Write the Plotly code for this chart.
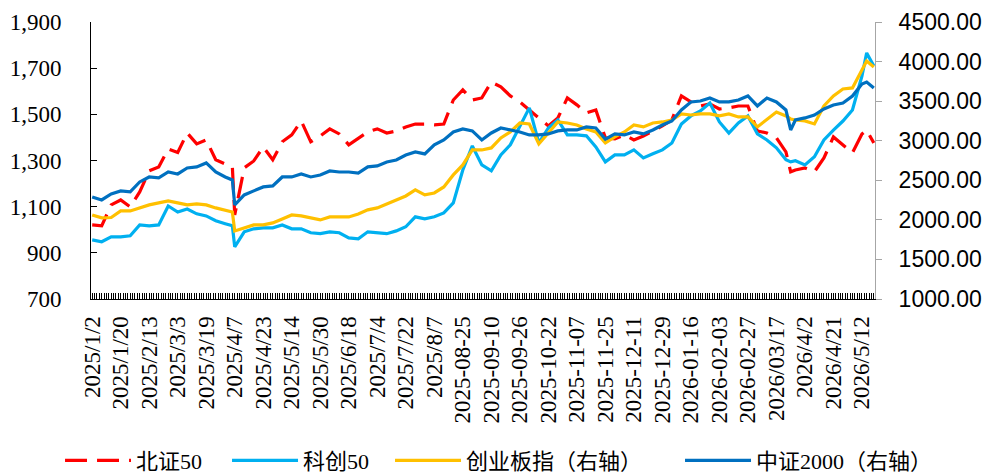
import plotly.graph_objects as go

# ---------------- data ----------------
tick_labels = [
    "2025/1/2", "2025/1/20", "2025/2/13", "2025/3/3", "2025/3/19", "2025/4/7",
    "2025/4/23", "2025/5/14", "2025/5/30", "2025/6/18", "2025/7/4", "2025/7/22",
    "2025/8/7", "2025-08-25", "2025-09-10", "2025-09-26", "2025-10-22", "2025-11-07",
    "2025-11-25", "2025-12-11", "2025-12-29", "2026-01-16", "2026-02-03", "2026-02-27",
    "2026/03/17", "2026/4/2", "2026/4/21", "2026/5/12",
]
label_every = 12          # trading days between labelled ticks
n_days = 330              # trading days on the category axis

# trading-day index of each sampled observation
day_idx = (list(range(0, 57, 4)) + [59] + list(range(60, 293, 4)) + [294]
           + list(range(296, 325, 4)) + [326, 329])

bz50 = [1021, 1017, 1108, 1129, 1099, 1164, 1255, 1272, 1350, 1335, 1419, 1372, 1389, 1303, 1285,
        1272,
        1064, 1268, 1298, 1359, 1303, 1381, 1411, 1471, 1381, 1406, 1437, 1415, 1368, 1398, 1424,
        1437, 1419, 1428, 1445, 1458, 1458, 1454, 1458, 1562, 1606, 1562, 1571, 1640, 1619, 1580,
        1554, 1519, 1484, 1450, 1484, 1571, 1541, 1506, 1519, 1398, 1394, 1411, 1389, 1406, 1428,
        1450, 1476, 1580, 1554, 1536, 1545, 1523, 1528, 1536, 1536, 1428, 1419, 1398, 1337,
        1251,
        1259, 1268, 1251, 1311, 1402, 1368, 1333, 1415,
        1432, 1376]

kc50 = [956, 948, 969, 969, 974, 1021, 1017, 1021, 1103, 1077, 1090, 1069, 1060, 1039, 1026,
        1017,
        926, 991, 1004, 1008, 1008, 1021, 1004, 1004, 987, 983, 991, 987, 965, 961, 991,
        987, 983, 995, 1013, 1056, 1047, 1056, 1073, 1116, 1259, 1363, 1281, 1255, 1324, 1368,
        1445, 1528, 1376, 1441, 1476, 1411, 1411, 1407, 1359, 1294, 1324, 1324, 1346, 1311, 1329,
        1346, 1376, 1458, 1493, 1515, 1549, 1467, 1419, 1463, 1493, 1415, 1389, 1355, 1303,
        1294,
        1299, 1281, 1316, 1389, 1432, 1471, 1519, 1666,
        1766, 1710]

cyb = [2062, 2025, 2030, 2113, 2113, 2151, 2189, 2214, 2239, 2214, 2189, 2201, 2189, 2151, 2126,
       2100,
       1860, 1898, 1936, 1936, 1961, 2012, 2062, 2050, 2025, 1999, 2037, 2037, 2037, 2075, 2126,
       2151, 2201, 2252, 2302, 2378, 2315, 2340, 2416, 2568, 2694, 2883, 2883, 2909, 3035, 3111,
       3224, 3212, 2959, 3098, 3237, 3224, 3199, 3149, 3111, 2972, 3048, 3111, 3199, 3174, 3224,
       3237, 3262, 3338, 3325, 3338, 3338, 3313, 3338, 3300, 3300, 3174, 3275, 3363, 3313,
       3275,
       3262, 3250, 3212, 3439, 3565, 3654, 3667, 3906,
       4007, 3932]

zz2000 = [2290, 2252, 2328, 2366, 2353, 2479, 2542, 2530, 2605, 2580, 2656, 2669, 2719, 2605, 2542,
          2504,
          2189, 2315, 2366, 2416, 2429, 2542, 2542, 2580, 2542, 2567, 2618, 2605, 2605, 2590, 2669,
          2681, 2732, 2757, 2820, 2858, 2833, 2947, 3010, 3111, 3149, 3124, 3010, 3098, 3161, 3136,
          3111, 3073, 3073, 3086, 3124, 3136, 3136, 3174, 3161, 3020, 3086, 3073, 3111, 3086, 3136,
          3199, 3250, 3389, 3490, 3502, 3540, 3490, 3490, 3515, 3565, 3439, 3540, 3490, 3389,
          3136,
          3262, 3288, 3325, 3401, 3452, 3477, 3565, 3717,
          3742, 3666]

series_names = ["北证50", "科创50", "创业板指（右轴）", "中证2000（右轴）"]
# --------------------------------------

tick_pos = [k * label_every for k in range(len(tick_labels))]

serif = "Liberation Serif, Times New Roman, Noto Sans CJK SC"
legend_font = "Liberation Serif, Noto Sans CJK SC"

fig = go.Figure()
fig.add_trace(go.Scatter(x=day_idx, y=bz50, name=series_names[0], mode="lines", legend="legend",
                         line=dict(color="#FF0000", width=3.2, dash="22px,10px")))
fig.add_trace(go.Scatter(x=day_idx, y=kc50, name=series_names[1], mode="lines", legend="legend2",
                         line=dict(color="#00B0F0", width=3.2)))
fig.add_trace(go.Scatter(x=day_idx, y=cyb, name=series_names[2], mode="lines", yaxis="y2",
                         legend="legend3", line=dict(color="#FFC000", width=3.2)))
fig.add_trace(go.Scatter(x=day_idx, y=zz2000, name=series_names[3], mode="lines", yaxis="y2",
                         legend="legend4", line=dict(color="#0070C0", width=3.2)))


def legend_at(xpos):
    return dict(orientation="h", xref="paper", yref="paper",
                x=xpos, xanchor="left", y=-0.583, yanchor="middle",
                font=dict(family=legend_font, size=22, color="black"),
                itemwidth=66, bgcolor="rgba(0,0,0,0)")


fig.update_layout(
    width=990, height=475,
    margin=dict(l=91, r=115, t=22, b=176, autoexpand=False),
    paper_bgcolor="white", plot_bgcolor="white",
    showlegend=True,
    legend=legend_at(-0.0395),
    legend2=legend_at(0.1735),
    legend3=legend_at(0.3814),
    legend4=legend_at(0.7513),
    xaxis=dict(
        range=[-0.5, n_days - 0.5], tickmode="array", tickvals=tick_pos, ticktext=tick_labels,
        tickangle=-90, ticks="inside", ticklen=6, tickcolor="black", tickwidth=1,
        minor=dict(ticks="inside", dtick=1, tick0=0, ticklen=6, tickcolor="black", tickwidth=1,
                   showgrid=False),
        showline=True, linecolor="black", linewidth=1, showgrid=False, zeroline=False,
        tickfont=dict(family=serif, size=23, color="black"), ticklabelstandoff=7,
    ),
    yaxis=dict(
        range=[700, 1900], tickmode="array", tickvals=[700, 900, 1100, 1300, 1500, 1700, 1900],
        tickformat=",", ticks="inside", ticklen=6, tickcolor="black",
        showline=True, linecolor="black", linewidth=1, showgrid=False, zeroline=False,
        tickfont=dict(family=serif, size=23, color="black"), ticklabelstandoff=24,
    ),
    yaxis2=dict(
        range=[1000, 4500], tickmode="array", tickvals=[1000, 1500, 2000, 2500, 3000, 3500, 4000, 4500],
        tickformat=".2f", overlaying="y", side="right", ticks="outside", ticklen=6,
        tickcolor="#A6A6A6", showline=True, linecolor="#A6A6A6", linewidth=1,
        showgrid=False, zeroline=False,
        tickfont=dict(family="Liberation Sans, Arial", size=23, color="black"), ticklabelstandoff=12,
    ),
)

fig.write_html("out.html", config={"displayModeBar": False},
               post_script="document.body.style.margin='0px';document.body.style.padding='0px';")
